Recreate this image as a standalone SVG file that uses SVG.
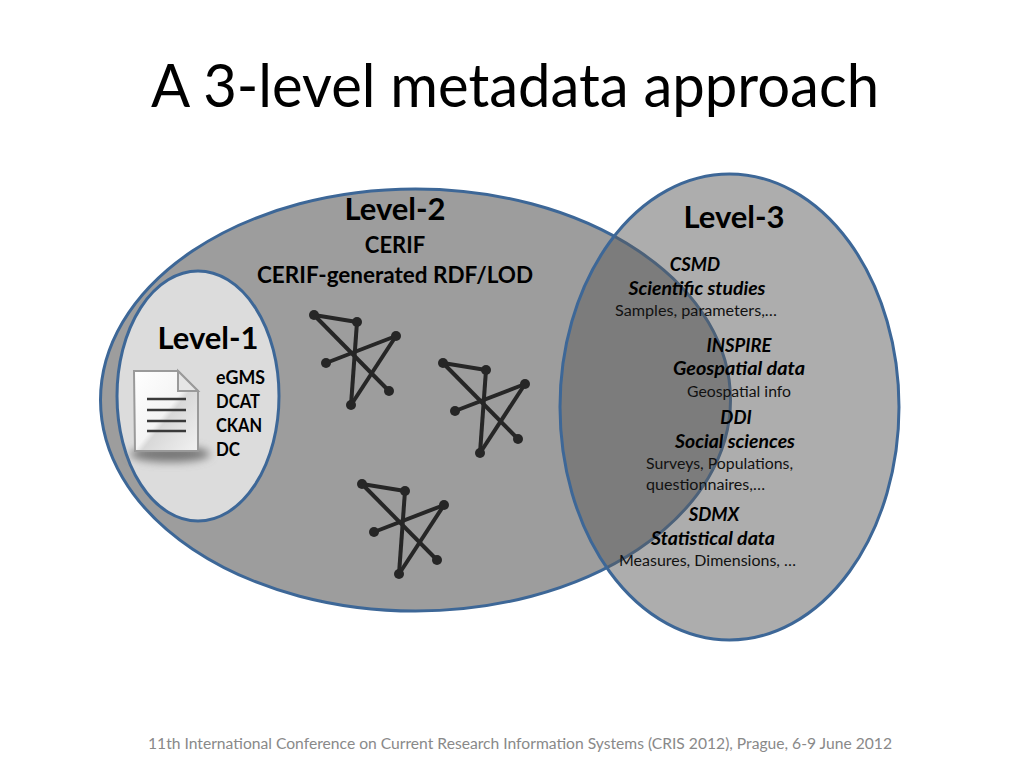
<svg xmlns="http://www.w3.org/2000/svg" width="1024" height="768" viewBox="0 0 1024 768">
<defs>
<style>
text{font-family:"Lato","Carlito","Liberation Sans",sans-serif;fill:#000}
.h{font-size:31px;font-weight:700}
.b{font-size:22px;font-weight:700}
.s{font-size:19.5px;font-weight:700}
.i{font-size:18.5px;font-weight:700;font-style:italic}
.r{font-size:15.5px;fill:#111}
.e{stroke:#3d6797;stroke-width:3}
.g line{stroke:#262626;stroke-width:4}
.g circle{fill:#262626}
.m{text-anchor:middle}
</style>
<g id="star">
<g class="g">
<line x1="314" y1="315" x2="357" y2="322"/><line x1="314" y1="315" x2="389" y2="391"/><line x1="357" y1="322" x2="351" y2="405"/><line x1="326" y1="363" x2="396" y2="336"/><line x1="396" y1="336" x2="351" y2="405"/>
<circle cx="314" cy="315" r="5"/><circle cx="357" cy="322" r="5"/><circle cx="396" cy="336" r="5"/><circle cx="326" cy="363" r="5"/><circle cx="389" cy="391" r="5"/><circle cx="351" cy="405" r="5"/>
</g>
</g>
<linearGradient id="pg" x1="0" y1="0" x2="1" y2="1"><stop offset="0" stop-color="#fff"/><stop offset="0.5" stop-color="#f4f4f4"/><stop offset="0.56" stop-color="#d8d8d8"/><stop offset="1" stop-color="#f2f2f2"/></linearGradient>
<filter id="bl" x="-30%" y="-100%" width="160%" height="300%"><feGaussianBlur stdDeviation="4"/></filter>
</defs>
<rect width="1024" height="768" fill="#fff"/>
<text id="title" x="515" y="107" class="m" style="font-size:60px" textLength="728" lengthAdjust="spacingAndGlyphs">A 3-level metadata approach</text>
<g id="level-2">
<ellipse cx="415.5" cy="400" rx="315" ry="211" fill="#9d9d9d" class="e"/>
<text x="395" y="220" class="h m">Level-2</text>
<text x="395" y="253" class="b m">CERIF</text>
<text x="395" y="283" class="b m" textLength="276" lengthAdjust="spacingAndGlyphs">CERIF-generated RDF/LOD</text>
</g>
<g id="graphs">
<use href="#star"/>
<use href="#star" x="129" y="48"/>
<use href="#star" x="48" y="169"/>
</g>
<g id="level-1">
<ellipse cx="198" cy="396" rx="81" ry="125" fill="#dcdcdc" class="e"/>
<text x="208" y="349" class="h m">Level-1</text>
<ellipse cx="170" cy="454" rx="40" ry="8" fill="#777" filter="url(#bl)"/>
<path d="M134 371H178L198 391V451H135Z" fill="url(#pg)" stroke="#9a9a9a" stroke-width="2"/>
<path d="M178 371V391H198Z" fill="#e6e6e6" stroke="#9a9a9a" stroke-width="2"/>
<path d="M147 399H186M147 410H186M147 421H186M147 431H186" stroke="#3a3a3a" stroke-width="2.5" fill="none"/>
<text x="216" y="384" class="s" textLength="49" lengthAdjust="spacingAndGlyphs">eGMS</text>
<text x="216" y="408" class="s" textLength="44" lengthAdjust="spacingAndGlyphs">DCAT</text>
<text x="216" y="432" class="s" textLength="46" lengthAdjust="spacingAndGlyphs">CKAN</text>
<text x="216" y="456" class="s" textLength="24" lengthAdjust="spacingAndGlyphs">DC</text>
</g>
<g id="level-3">
<ellipse cx="729.5" cy="407" rx="169.5" ry="233" fill="#5c5c5c" fill-opacity="0.5" stroke="#3d6797" stroke-width="3"/>
<text x="734" y="228" class="h m">Level-3</text>
<text x="695" y="271" class="i m">CSMD</text>
<text x="697" y="295" class="i m" textLength="137" lengthAdjust="spacingAndGlyphs">Scientific studies</text>
<text x="615" y="316" class="r" textLength="162" lengthAdjust="spacingAndGlyphs">Samples, parameters,…</text>
<text x="739" y="352" class="i m">INSPIRE</text>
<text x="739" y="375" class="i m" textLength="132" lengthAdjust="spacingAndGlyphs">Geospatial data</text>
<text x="739" y="397" class="r m" textLength="104" lengthAdjust="spacingAndGlyphs">Geospatial info</text>
<text x="736" y="424" class="i m">DDI</text>
<text x="735" y="448" class="i m" textLength="120" lengthAdjust="spacingAndGlyphs">Social sciences</text>
<text x="646" y="469" class="r" textLength="147" lengthAdjust="spacingAndGlyphs">Surveys, Populations,</text>
<text x="646" y="490" class="r" textLength="119" lengthAdjust="spacingAndGlyphs">questionnaires,…</text>
<text x="714" y="521" class="i m">SDMX</text>
<text x="713" y="545" class="i m" textLength="124" lengthAdjust="spacingAndGlyphs">Statistical data</text>
<text x="619" y="566" class="r" textLength="177" lengthAdjust="spacingAndGlyphs">Measures, Dimensions, …</text>
</g>
<text id="footer" x="148" y="749" style="font-size:15.5px;fill:#898989" textLength="744" lengthAdjust="spacingAndGlyphs">11th International Conference on Current Research Information Systems (CRIS 2012), Prague, 6-9 June 2012</text>
</svg>
